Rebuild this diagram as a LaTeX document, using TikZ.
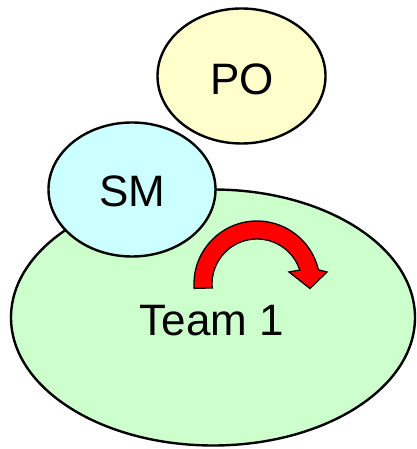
\documentclass[tikz,border=0pt]{standalone}
\usepackage{fontspec}
\setmainfont{Liberation Sans}
\usetikzlibrary{shapes.geometric}
\definecolor{teamgreen}{HTML}{CCFFCC}
\definecolor{smcyan}{HTML}{CCFFFF}
\definecolor{poyellow}{HTML}{FFFFCC}
\begin{document}
\begin{tikzpicture}[x=1pt,y=1pt,
  role/.style={ellipse, draw=black, line width=2.4pt, inner sep=0pt},
  rolelabel/.style={anchor=base, inner sep=0pt, font=\fontsize{44}{50}\selectfont}]
\useasboundingbox (0,0) rectangle (416,449);
% team, scrum master and product owner
\node[role, fill=teamgreen, minimum width=404, minimum height=256] (team) at (213,131.5) {};
\node[role, fill=smcyan, minimum width=167, minimum height=134] (sm) at (132,259.5) {};
\node[role, fill=poyellow, minimum width=168, minimum height=135] (po) at (241.5,373) {};
\node[rolelabel] (teamlbl) at (212,113) {Team 1};
\node[rolelabel] (smlbl) at (132,242) {SM};
\node[rolelabel] (polbl) at (242,354) {PO};
% curved iteration arrow
\coordinate (c) at (257,165);
\draw[fill=red, line width=1.3pt, line join=miter]
  ([shift={(184:63)}]c) arc[start angle=184, end angle=13, radius=63]
  -- (327,177) -- (310,160.5) -- (289,177)
  -- ([shift={(18:45)}]c) arc[start angle=18, end angle=185, radius=45]
  -- cycle;
\end{tikzpicture}
\end{document}
